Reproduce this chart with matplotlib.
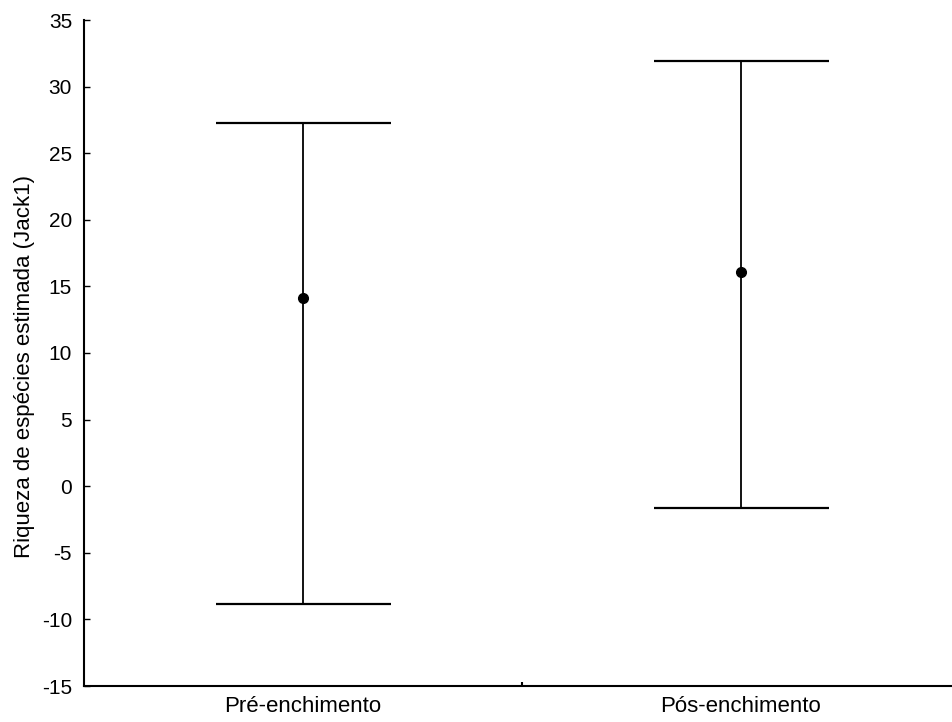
import matplotlib
matplotlib.use("Agg")
import matplotlib.pyplot as plt
from matplotlib.ticker import FixedLocator

plt.rcParams['font.family'] = ['Liberation Sans', 'DejaVu Sans']

categories = ["Pré-enchimento", "Pós-enchimento"]
means = [14.1, 16.05]
upper = [27.25, 31.95]
lower = [-8.85, -1.65]
yticks = [-15, -10, -5, 0, 5, 10, 15, 20, 25, 30, 35]

fig = plt.figure(figsize=(9.53, 7.22), dpi=100)
ax = fig.add_axes([84/953, 36/722, 1 - 84/953, (686-20)/722])

x = list(range(len(categories)))
err_lo = [m - l for m, l in zip(means, lower)]
err_hi = [u - m for m, u in zip(means, upper)]
ax.errorbar(x, means, yerr=[err_lo, err_hi], fmt='o', color='black',
            markersize=7, elinewidth=1.3, capsize=63, capthick=1.6)

ax.set_xlim(-0.5, -0.5 + (953-84)/438)
ax.set_ylim(-15, 35)
ax.set_yticks(yticks)
ax.set_yticklabels([str(t) for t in yticks])
ax.set_xticks(x)
ax.set_xticklabels(categories, fontsize=16)
ax.xaxis.set_minor_locator(FixedLocator([0.5]))

for s in ['top', 'right']:
    ax.spines[s].set_visible(False)
for s in ['left', 'bottom']:
    ax.spines[s].set_linewidth(1.5)

ax.tick_params(axis='y', direction='in', length=4.5, width=1, labelsize=15, pad=8.6)
ax.tick_params(axis='x', which='major', length=0, pad=7)
ax.tick_params(axis='x', which='minor', direction='in', length=3, width=1.5)

ax.set_ylabel("Riqueza de espécies estimada (Jack1)", fontsize=16, labelpad=5)
ax.yaxis.label.set_y(0.479)

fig.savefig("out.png", dpi=100)
